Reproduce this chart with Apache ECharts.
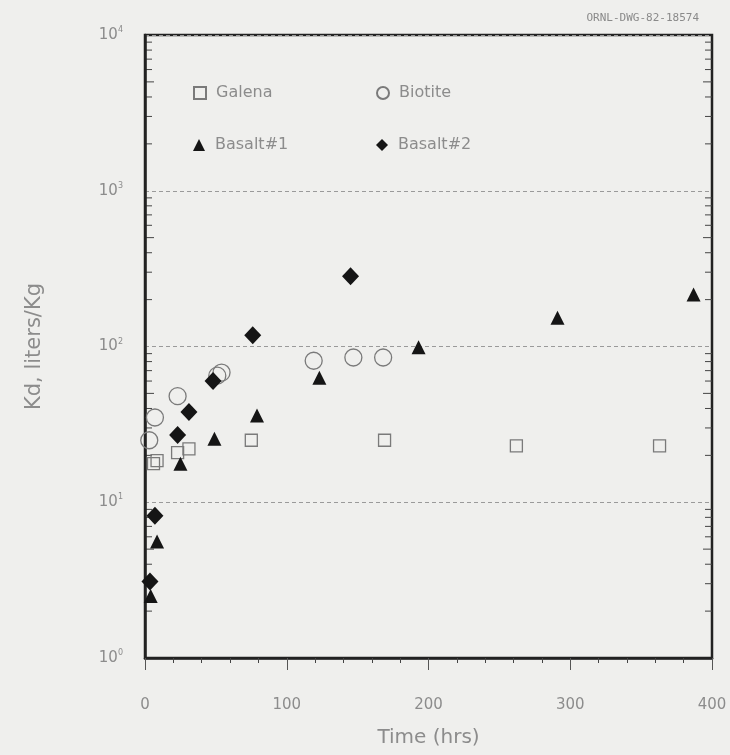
<!DOCTYPE html>
<html>
<head>
<meta charset="utf-8">
<script src="https://cdn.jsdelivr.net/npm/echarts@6/dist/echarts.min.js"></script>
<style>
  html, body { margin: 0; padding: 0; background: #efefed; }
  #main { width: 730px; height: 755px; }
</style>
</head>
<body>
<div id="main"></div>
<script>
// values (time in hrs, Kd in liters/kg)
var galenaTime = [6, 8.5, 23, 31, 75, 169, 262, 363];
var galenaKd = [17.7, 18.5, 20.8, 22, 25, 25, 23, 23];
var biotiteTime = [3, 7, 23, 51, 54, 119, 147, 168];
var biotiteKd = [25, 35, 48, 65, 68, 81, 85, 85];
var basalt1Time = [4, 8.5, 25, 49, 79, 123, 193, 291, 387];
var basalt1Kd = [2.5, 5.6, 17.7, 25.6, 36, 63, 99, 153, 216];
var basalt2Time = [3.5, 7, 23, 31, 48, 76, 145];
var basalt2Kd = [3.1, 8.2, 27, 38, 60, 118, 282];

var yMin = 1, yMax = 10000;
var xMin = 0, xMax = 400, xStep = 100;

function pairs(xs, ys) {
    return xs.map(function (x, i) { return [x, ys[i]]; });
}

var textColor = '#8c8c8c';
var inkColor = '#151515';
var font = 'DejaVu Sans';

var chartDom = document.getElementById('main');
var myChart = echarts.init(chartDom, null, { renderer: 'canvas' });

function legendAt(name, left, top) {
    return {
        data: [name],
        left: left,
        top: top,
        itemWidth: 12,
        itemHeight: 12,
        itemGap: 0,
        textStyle: { color: textColor, fontFamily: font, fontSize: 16, padding: [0, 0, 0, 5] }
    };
}

var option = {
    backgroundColor: '#efefed',
    animation: false,
    title: {
        text: 'ORNL-DWG-82-18574',
        right: 26,
        top: 8,
        textStyle: { color: '#8a8a8a', fontFamily: 'DejaVu Sans Mono', fontSize: 11, fontWeight: 'normal' }
    },
    legend: [
        legendAt('Galena', 188, 80),
        legendAt('Biotite', 371, 80),
        legendAt('Basalt#1', 188, 132),
        legendAt('Basalt#2', 371, 132)
    ],
    grid: {
        left: 145,
        right: 18,
        top: 35,
        bottom: 97,
        show: true,
        borderColor: '#222',
        borderWidth: 2.5,
        backgroundColor: 'transparent'
    },
    xAxis: {
        type: 'value',
        min: xMin,
        max: xMax,
        interval: xStep,
        name: 'Time (hrs)',
        nameLocation: 'middle',
        nameGap: 70,
        nameTextStyle: { color: textColor, fontFamily: font, fontSize: 20 },
        axisLine: { show: true, lineStyle: { color: '#222', width: 2.5 } },
        axisTick: { show: true, length: 12, lineStyle: { color: '#555', width: 1 } },
        minorTick: { show: true, splitNumber: 5, length: 5, lineStyle: { color: '#444', width: 1 } },
        splitLine: { show: false },
        axisLabel: { color: textColor, fontFamily: font, fontSize: 15, margin: 40 }
    },
    yAxis: {
        type: 'log',
        logBase: 10,
        min: yMin,
        max: yMax,
        name: 'Kd, liters/Kg',
        nameLocation: 'middle',
        nameGap: 100,
        nameRotate: 90,
        nameTextStyle: { color: textColor, fontFamily: font, fontSize: 21 },
        axisLine: { show: true, lineStyle: { color: '#222', width: 2.5 } },
        axisTick: { show: false },
        splitLine: { show: true, lineStyle: { color: '#9a9a9a', width: 1, type: [4, 3] } },
        axisLabel: {
            margin: 22,
            formatter: function (v) {
                var e = Math.round(Math.log10(v));
                return '{b|10}{s|' + e + '}';
            },
            rich: {
                b: { color: textColor, fontFamily: font, fontSize: 15 },
                s: { color: textColor, fontFamily: font, fontSize: 8, padding: [0, 0, 10, 0] }
            }
        }
    },
    series: [
        {
            name: 'Galena',
            type: 'scatter',
            symbol: 'rect',
            symbolSize: 12,
            itemStyle: { color: 'transparent', borderColor: '#7a7a7a', borderWidth: 1.3, opacity: 1 },
            data: pairs(galenaTime, galenaKd)
        },
        {
            name: 'Biotite',
            type: 'scatter',
            symbol: 'circle',
            symbolSize: 17,
            itemStyle: { color: 'transparent', borderColor: '#7a7a7a', borderWidth: 1.3, opacity: 1 },
            data: pairs(biotiteTime, biotiteKd)
        },
        {
            name: 'Basalt#1',
            type: 'scatter',
            symbol: 'triangle',
            symbolSize: 14,
            itemStyle: { color: inkColor, opacity: 1 },
            data: pairs(basalt1Time, basalt1Kd)
        },
        {
            name: 'Basalt#2',
            type: 'scatter',
            symbol: 'diamond',
            symbolSize: [17, 18],
            itemStyle: { color: inkColor, opacity: 1 },
            data: pairs(basalt2Time, basalt2Kd)
        }
    ]
};

myChart.setOption(option);

// log-style minor ticks (2..9 in each decade) on the left and right frame
var gridRect = myChart.getModel().getComponent('grid', 0).coordinateSystem.getRect();
var ticks = [];
for (var d = 1; d < yMax; d *= 10) {
    for (var m = 2; m <= 9; m++) {
        var py = myChart.convertToPixel({ yAxisIndex: 0 }, m * d);
        var len = m === 5 ? 9 : 7;
        ticks.push({
            type: 'line',
            silent: true,
            shape: { x1: gridRect.x, y1: py, x2: gridRect.x + len, y2: py },
            style: { stroke: '#444', lineWidth: 1 }
        });
        ticks.push({
            type: 'line',
            silent: true,
            shape: { x1: gridRect.x + gridRect.width - len, y1: py, x2: gridRect.x + gridRect.width, y2: py },
            style: { stroke: '#444', lineWidth: 1 }
        });
    }
}
myChart.setOption({ graphic: ticks });
</script>
</body>
</html>
